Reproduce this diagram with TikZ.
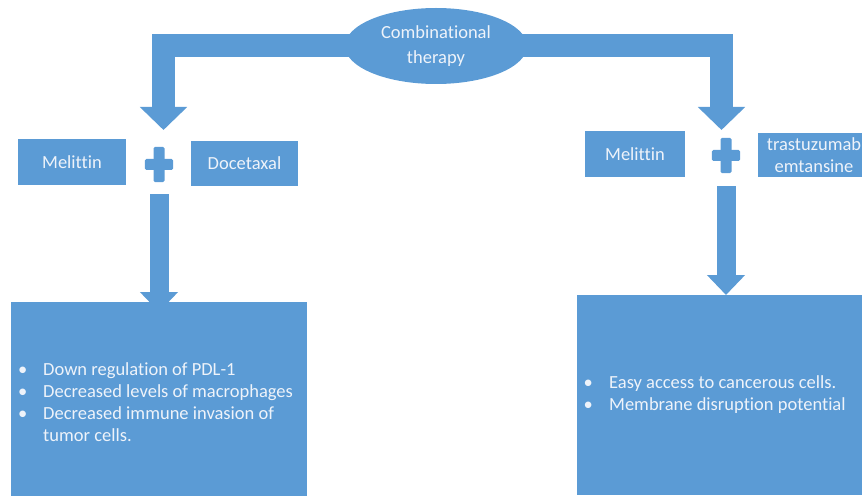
\documentclass[tikz,border=0pt]{standalone}
\usepackage{fontspec}
\setmainfont{Carlito}[Ligatures=NoCommon]
\usetikzlibrary{arrows.meta,shapes.geometric}
\definecolor{ofblue}{HTML}{5B9BD5}
\definecolor{txtc}{HTML}{EEF3FA}
\pgfdeclarelayer{bg}
\pgfsetlayers{bg,main}
\begin{document}
\begin{tikzpicture}[x=1pt,y=-1pt,
  box/.style={fill=ofblue, draw=none, inner sep=0pt, text=txtc,
    font=\fontsize{18.5}{22}\selectfont, align=center},
  listtext/.style={inner sep=0pt, text=txtc, font=\fontsize{18.5}{22}\selectfont},
  plussign/.style={inner sep=0pt, minimum width=28pt, minimum height=35pt},
  plusfill/.style={fill=ofblue, rounded corners=1.5pt},
  toparrow/.style={draw=ofblue, line width=23pt, line join=miter,
    -{Triangle[width=46pt,length=23pt]}},
  lowarrow/.style={draw=ofblue, line width=19pt,
    -{Triangle[width=37pt,length=20pt]}}]
\useasboundingbox (0,0) rectangle (862,497);
\clip (0,0) rectangle (862,497);

% top node
\node[ellipse, fill=ofblue, minimum width=182pt, minimum height=76pt, inner sep=0pt,
  text=txtc, font=\fontsize{18.5}{25}\selectfont, align=center] (ct) at (436,46)
  {Combinational\\therapy};

% drug boxes
\node[box, minimum width=108pt, minimum height=46pt] (mel1) at (72,162) {Melittin};
\node[box, minimum width=107pt, minimum height=45pt] (doc) at (244.5,163.5) {Docetaxal};
\node[box, minimum width=100pt, minimum height=46pt] (mel2) at (635,154) {Melittin};
\node[box, minimum width=112pt, minimum height=44pt] (tras) at (814,155) {trastuzumab\\emtansine};

% plus signs
\node[plussign] (p1) at (159,164.5) {};
\node[plussign] (p2) at (726,155.5) {};
\foreach \p in {p1,p2}{
  \fill[plusfill] ([xshift=-5.5pt]\p.north) rectangle ([xshift=5.5pt]\p.south);
  \fill[plusfill] ([yshift=5.5pt]\p.west) rectangle ([yshift=-5.5pt]\p.east);
}

% result boxes
\node[box, minimum width=296pt, minimum height=194pt, anchor=north west] (res1) at (11,302) {};
\node[box, minimum width=300pt, minimum height=200pt, anchor=north west] (res2) at (577,295) {};

\node[listtext, anchor=west] (t1) at (18,404) {\begin{tabular}{@{}p{25pt}@{}l@{}}
\textbullet & Down regulation of PDL-1\\
\textbullet & Decreased levels of macrophages\\
\textbullet & Decreased immune invasion of\\
 & tumor cells.
\end{tabular}};
\node[listtext, anchor=west] (t2) at (583.5,395) {\begin{tabular}{@{}p{25.5pt}@{}l@{}}
\textbullet & Easy access to cancerous cells.\\
\textbullet & Membrane disruption potential
\end{tabular}};

% connectors
\coordinate (a1) at (163.5,130);
\coordinate (a2) at (721.5,130);
\begin{pgfonlayer}{bg}
\draw[toparrow] (ct.center) -| (a1);
\draw[toparrow] (ct.center) -| (a2);
\draw[lowarrow, shorten <=12pt, shorten >=-10pt] (p1.south) -- (p1.south |- res1.north);
\draw[lowarrow, shorten <=13pt] (p2.south) -- (p2.south |- res2.north);
\end{pgfonlayer}
\end{tikzpicture}
\end{document}
